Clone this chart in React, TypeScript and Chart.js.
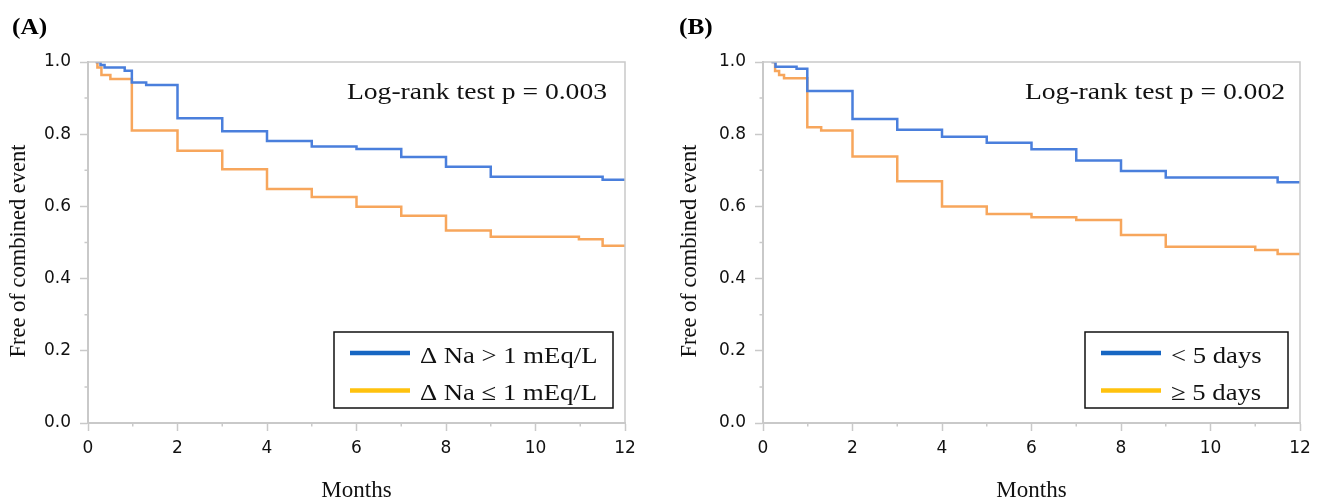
import React, { useEffect, useRef } from 'react';
import { Chart, registerables } from 'chart.js';

Chart.register(...registerables);

// ---------- data ----------
const xTicks = [0, 2, 4, 6, 8, 10, 12];
const xTickLabels = ['0', '2', '4', '6', '8', '10', '12'];
const xMinorTicks = [1, 3, 5, 7, 9, 11];
const yTicks = [0, 0.2, 0.4, 0.6, 0.8, 1.0];
const yTickLabels = ['0.0', '0.2', '0.4', '0.6', '0.8', '1.0'];
const yMinorTicks = [0.1, 0.3, 0.5, 0.7, 0.9];

// Panel A: ΔNa > 1 mEq/L vs ΔNa ≤ 1 mEq/L
const aHighTimes = [0.17, 0.28, 0.37, 0.82, 0.98, 1.3, 2, 3, 4, 5, 6, 7, 8, 9, 11.5, 12];
const aHighSurv = [1.0, 0.992, 0.985, 0.976, 0.943, 0.936, 0.844, 0.808, 0.781, 0.766, 0.759, 0.737, 0.71, 0.682, 0.674, 0.674];
const aLowTimes = [0.17, 0.21, 0.3, 0.5, 0.98, 2, 3, 4, 5, 6, 7, 8, 9, 10.97, 11.5, 12];
const aLowSurv = [1.0, 0.985, 0.964, 0.953, 0.81, 0.754, 0.703, 0.648, 0.626, 0.599, 0.574, 0.533, 0.516, 0.509, 0.491, 0.491];

// Panel B: < 5 days vs ≥ 5 days
const bShortTimes = [0.19, 0.28, 0.75, 0.99, 2, 3, 4, 5, 6, 7, 8, 9, 11.5, 12];
const bShortSurv = [1.0, 0.987, 0.981, 0.92, 0.842, 0.812, 0.793, 0.776, 0.758, 0.727, 0.698, 0.68, 0.667, 0.667];
const bLongTimes = [0.19, 0.27, 0.36, 0.47, 0.99, 1.3, 2, 3, 4, 5, 6, 7, 8, 9, 11, 11.5, 12];
const bLongSurv = [1.0, 0.975, 0.964, 0.955, 0.819, 0.81, 0.738, 0.67, 0.6, 0.579, 0.57, 0.562, 0.521, 0.488, 0.479, 0.468, 0.468];

const panelLabels = ['(A)', '(B)'];
const pValueTexts = ['Log-rank test p = 0.003', 'Log-rank test p = 0.002'];
const legendLabelsA = ['\u0394 Na > 1 mEq/L', '\u0394 Na \u2264 1 mEq/L'];
const legendLabelsB = ['< 5 days', '\u2265 5 days'];
const yTitle = 'Free of combined event';
const xTitle = 'Months';

// ---------- styles ----------
const CURVE_BLUE = '#4a7fdc';
const CURVE_ORANGE = '#f7a65c';
const LEGEND_BLUE = '#1766c2';
const LEGEND_GOLD = '#ffc20e';
const AXIS_GRAY = '#c9c9c9';
const SERIF = "'Liberation Serif', 'Times New Roman', serif";
const SANS = "'DejaVu Sans', sans-serif";

type PanelCfg = {
  left: number;
  yAxisWidth: number;
  padRight: number;
  yTitleX: number;
  label: string;
  labelX: number;
  pText: string;
  pRightGap: number;
  legendLabels: string[];
  legendRightGap: number;
  legendWidth: number;
  seriesA: { t: number[]; s: number[] };
  seriesB: { t: number[]; s: number[] };
};

const panels: PanelCfg[] = [
  {
    left: 0,
    yAxisWidth: 88,
    padRight: 35,
    yTitleX: 19,
    label: panelLabels[0],
    labelX: 12,
    pText: pValueTexts[0],
    pRightGap: 18,
    legendLabels: legendLabelsA,
    legendRightGap: 12,
    legendWidth: 279,
    seriesA: { t: aHighTimes, s: aHighSurv },
    seriesB: { t: aLowTimes, s: aLowSurv },
  },
  {
    left: 660,
    yAxisWidth: 103,
    padRight: 20,
    yTitleX: 30,
    label: panelLabels[1],
    labelX: 19,
    pText: pValueTexts[1],
    pRightGap: 15,
    legendLabels: legendLabelsB,
    legendRightGap: 12,
    legendWidth: 203,
    seriesA: { t: bShortTimes, s: bShortSurv },
    seriesB: { t: bLongTimes, s: bLongSurv },
  },
];

function stretchedText(
  ctx: CanvasRenderingContext2D,
  text: string,
  x: number,
  y: number,
  align: CanvasTextAlign,
  sx: number
) {
  ctx.save();
  ctx.translate(x, y);
  ctx.scale(sx, 1);
  ctx.textAlign = align;
  ctx.textBaseline = 'alphabetic';
  ctx.fillText(text, 0, 0);
  ctx.restore();
}

function Panel({ cfg }: { cfg: PanelCfg }) {
  const ref = useRef<HTMLCanvasElement | null>(null);

  useEffect(() => {
    if (!ref.current) return;
    const toPts = (t: number[], s: number[]) => t.map((x, i) => ({ x, y: s[i] }));

    const overlay = {
      id: 'overlay',
      afterDraw(chart: any) {
        const ctx: CanvasRenderingContext2D = chart.ctx;
        const ca = chart.chartArea;
        const xs = chart.scales.x;
        const ys = chart.scales.y;
        ctx.save();
        // frame top and right
        ctx.strokeStyle = AXIS_GRAY;
        ctx.lineWidth = 1.5;
        ctx.beginPath();
        ctx.moveTo(ca.left, ca.top);
        ctx.lineTo(ca.right, ca.top);
        ctx.lineTo(ca.right, ca.bottom);
        ctx.stroke();
        // minor ticks
        ctx.beginPath();
        xMinorTicks.forEach((v) => {
          const px = xs.getPixelForValue(v);
          ctx.moveTo(px, ca.bottom);
          ctx.lineTo(px, ca.bottom + 3.5);
        });
        yMinorTicks.forEach((v) => {
          const py = ys.getPixelForValue(v);
          ctx.moveTo(ca.left - 3.5, py);
          ctx.lineTo(ca.left, py);
        });
        ctx.stroke();

        // y axis title (rotated)
        ctx.save();
        ctx.fillStyle = '#111';
        ctx.font = `22.5px ${SERIF}`;
        ctx.translate(cfg.yTitleX, 251);
        ctx.rotate(-Math.PI / 2);
        ctx.textAlign = 'center';
        ctx.textBaseline = 'middle';
        ctx.fillText(yTitle, 0, 0);
        ctx.restore();

        // panel label
        ctx.fillStyle = '#000';
        ctx.font = `bold 23px ${SERIF}`;
        stretchedText(ctx, cfg.label, cfg.labelX, 34, 'left', 1.1);

        // p-value text
        ctx.fillStyle = '#111';
        ctx.font = `24px ${SERIF}`;
        stretchedText(ctx, cfg.pText, ca.right - cfg.pRightGap, ca.top + 37, 'right', 1.15);

        // legend box
        const bw = cfg.legendWidth;
        const bh = 76;
        const bx = ca.right - cfg.legendRightGap - bw;
        const by = ca.bottom - 15 - bh;
        ctx.fillStyle = '#fff';
        ctx.fillRect(bx, by, bw, bh);
        ctx.strokeStyle = '#111';
        ctx.lineWidth = 1.5;
        ctx.strokeRect(bx, by, bw, bh);
        const rows = [by + 21, by + 58.5];
        const cols = [LEGEND_BLUE, LEGEND_GOLD];
        rows.forEach((ry, i) => {
          ctx.strokeStyle = cols[i];
          ctx.lineWidth = 4.5;
          ctx.beginPath();
          ctx.moveTo(bx + 16, ry);
          ctx.lineTo(bx + 76, ry);
          ctx.stroke();
          ctx.fillStyle = '#111';
          ctx.font = `23px ${SERIF}`;
          stretchedText(ctx, cfg.legendLabels[i], bx + 86, ry + 9.5, 'left', 1.16);
        });
        ctx.restore();
      },
    };

    const chart = new Chart(ref.current, {
      type: 'line',
      data: {
        datasets: [
          {
            data: toPts(cfg.seriesA.t, cfg.seriesA.s),
            borderColor: CURVE_BLUE,
            borderWidth: 2.5,
            pointRadius: 0,
            stepped: true,
            fill: false,
          },
          {
            data: toPts(cfg.seriesB.t, cfg.seriesB.s),
            borderColor: CURVE_ORANGE,
            borderWidth: 2.5,
            pointRadius: 0,
            stepped: true,
            fill: false,
          },
        ],
      },
      options: {
        animation: false,
        responsive: false,
        parsing: false as any,
        layout: { padding: { left: 0, right: cfg.padRight, top: 62, bottom: 0 } },
        plugins: {
          legend: { display: false },
          tooltip: { enabled: false },
        },
        scales: {
          x: {
            type: 'linear',
            min: 0,
            max: 12,
            afterFit: (s: any) => {
              s.height = 78;
            },
            afterBuildTicks: (s: any) => {
              s.ticks = xTicks.map((v) => ({ value: v }));
            },
            ticks: {
              callback: (v: any) => xTickLabels[xTicks.indexOf(Number(v))] ?? '',
              font: { family: SANS, size: 17 },
              color: '#111',
              padding: 7,
              maxRotation: 0,
              autoSkip: false,
            },
            grid: {
              drawOnChartArea: false,
              drawTicks: true,
              tickLength: 8,
              tickColor: AXIS_GRAY,
              tickWidth: 1.5,
            },
            border: { display: true, color: AXIS_GRAY, width: 2 },
            title: {
              display: true,
              text: xTitle,
              font: { family: SERIF, size: 23, lineHeight: 1 },
              color: '#111',
              padding: { top: 0, bottom: -1 },
            },
          },
          y: {
            type: 'linear',
            min: 0,
            max: 1,
            afterFit: (s: any) => {
              s.width = cfg.yAxisWidth;
            },
            afterBuildTicks: (s: any) => {
              s.ticks = yTicks.map((v) => ({ value: v }));
            },
            ticks: {
              callback: (v: any) => {
                const i = yTicks.findIndex((t) => Math.abs(t - Number(v)) < 1e-6);
                return i >= 0 ? yTickLabels[i] : '';
              },
              font: { family: SANS, size: 17 },
              color: '#111',
              padding: 9,
              autoSkip: false,
            },
            grid: {
              drawOnChartArea: false,
              drawTicks: true,
              tickLength: 8,
              tickColor: AXIS_GRAY,
              tickWidth: 1.5,
            },
            border: { display: true, color: AXIS_GRAY, width: 2 },
            title: { display: false },
          },
        },
      },
      plugins: [overlay],
    } as any);

    return () => chart.destroy();
  }, [cfg]);

  return (
    <canvas
      ref={ref}
      width={660}
      height={501}
      style={{ position: 'absolute', left: cfg.left, top: 0, width: 660, height: 501 }}
    />
  );
}

export default function App() {
  return (
    <div style={{ position: 'absolute', left: 0, top: 0, width: 1320, height: 501, background: '#fff' }}>
      {panels.map((p, i) => (
        <Panel key={i} cfg={p} />
      ))}
    </div>
  );
}
